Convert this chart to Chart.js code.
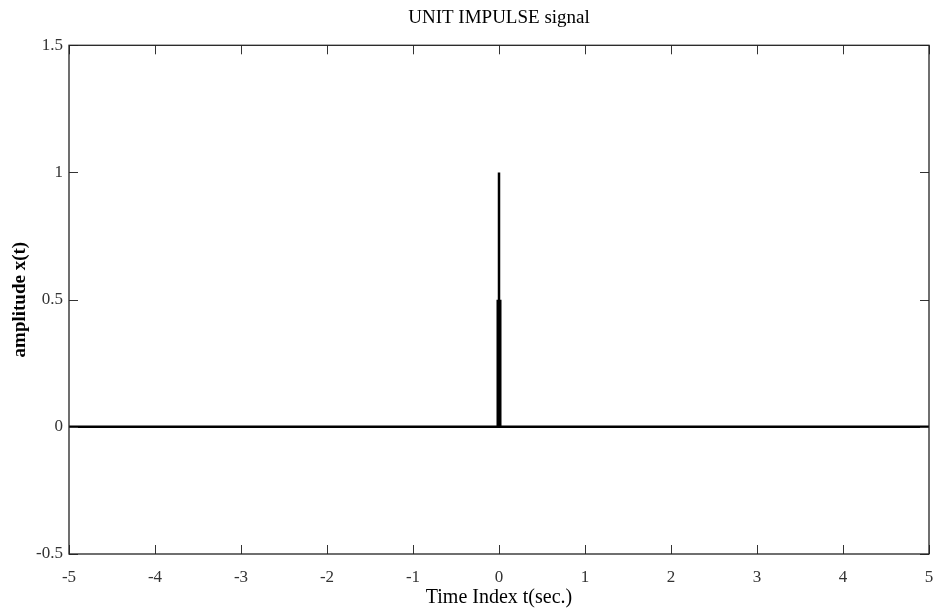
<!DOCTYPE html>
<html>
<head>
<meta charset="utf-8">
<script src="https://cdn.jsdelivr.net/npm/chart.js@4.4.1/dist/chart.umd.min.js"></script>
<style>
    html, body { margin: 0; padding: 0; background: #fff; }
    #wrap { width: 935px; height: 608px; }
</style>
</head>
<body>
<div id="wrap"><canvas id="impulse"></canvas></div>
<script>
// time axis and signal: x(t) is zero everywhere except the unit spike at t = 0
const timeIdx = [-5, 0, 0, 0, 5];
const amplitude = [0, 0, 1, 0, 0];

// lower half of the spike is drawn heavier
const stemTime = [0, 0];
const stemAmp = [0, 0.5];

const xTicks = [-5, -4, -3, -2, -1, 0, 1, 2, 3, 4, 5];
const yTicks = [-0.5, 0, 0.5, 1, 1.5];

const serif = "'Liberation Serif', 'Times New Roman', serif";

// box around the plot with short inward ticks on all four sides
const frameTicks = {
    id: "frameTicks",
    afterDatasetsDraw(chart) {
        const { ctx, chartArea: a, scales } = chart;
        const len = 9;
        ctx.save();
        ctx.strokeStyle = "#333";
        ctx.lineWidth = 1;
        ctx.beginPath();
        xTicks.forEach(v => {
            const px = Math.round(scales.x.getPixelForValue(v)) + 0.5;
            ctx.moveTo(px, a.bottom); ctx.lineTo(px, a.bottom - len);
            ctx.moveTo(px, a.top); ctx.lineTo(px, a.top + len);
        });
        yTicks.forEach(v => {
            const py = Math.round(scales.y.getPixelForValue(v)) + 0.5;
            ctx.moveTo(a.left, py); ctx.lineTo(a.left + len, py);
            ctx.moveTo(a.right, py); ctx.lineTo(a.right - len, py);
        });
        ctx.stroke();
        ctx.strokeStyle = "#222";
        ctx.lineWidth = 1.3;
        ctx.strokeRect(a.left, a.top, a.right - a.left, a.bottom - a.top);
        ctx.restore();
    }
};

new Chart(document.getElementById("impulse"), {
    type: "line",
    data: {
        datasets: [
            {
                data: timeIdx.map((t, i) => ({ x: t, y: amplitude[i] })),
                borderColor: "#000",
                borderWidth: 2.5,
                pointRadius: 0,
                tension: 0
            },
            {
                data: stemTime.map((t, i) => ({ x: t, y: stemAmp[i] })),
                borderColor: "#000",
                borderWidth: 5,
                pointRadius: 0,
                tension: 0
            }
        ]
    },
    options: {
        responsive: true,
        maintainAspectRatio: false,
        animation: false,
        layout: { padding: { left: 0, right: 6, top: 0, bottom: 0 } },
        plugins: {
            legend: { display: false },
            tooltip: { enabled: false },
            title: {
                display: true,
                fullSize: false,
                text: "UNIT IMPULSE signal",
                color: "#000",
                font: { family: serif, size: 19, weight: "normal", lineHeight: 1.2 },
                padding: { top: 7, bottom: 15.5 }
            }
        },
        scales: {
            x: {
                type: "linear",
                min: -5,
                max: 5,
                afterBuildTicks: s => { s.ticks = xTicks.map(v => ({ value: v })); },
                afterFit: s => { s.height = 54; s.paddingLeft = 0; s.paddingRight = 0; },
                grid: { display: false, drawTicks: false },
                border: { display: false },
                ticks: {
                    color: "#333",
                    padding: 13,
                    maxRotation: 0,
                    callback: v => String(v),
                    font: { family: serif, size: 17 }
                },
                title: {
                    display: true,
                    text: "Time Index t(sec.)",
                    color: "#000",
                    font: { family: serif, size: 20, lineHeight: 1 },
                    padding: 0
                }
            },
            y: {
                min: -0.5,
                max: 1.5,
                afterBuildTicks: s => { s.ticks = yTicks.map(v => ({ value: v })); },
                afterFit: s => { s.width = 69; s.paddingTop = 0; s.paddingBottom = 0; },
                grid: { display: false, drawTicks: false },
                border: { display: false },
                ticks: {
                    color: "#333",
                    padding: 6,
                    callback: v => String(v),
                    font: { family: serif, size: 17 }
                },
                title: {
                    display: true,
                    text: "amplitude x(t)",
                    color: "#000",
                    font: { family: serif, size: 19, weight: "bold", lineHeight: 1.2 },
                    padding: { top: 9, bottom: 0 }
                }
            }
        }
    },
    plugins: [frameTicks]
});
</script>
</body>
</html>
